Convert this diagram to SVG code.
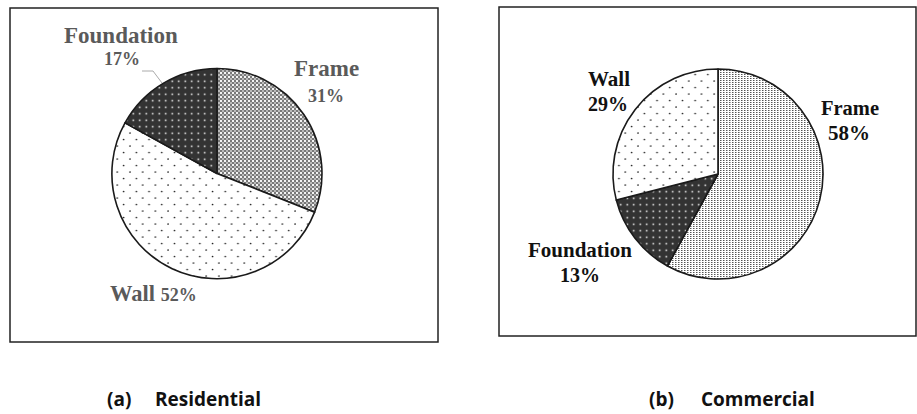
<svg xmlns="http://www.w3.org/2000/svg" width="917" height="414" viewBox="0 0 917 414">
<style>
.box{fill:#fff;stroke:#222;stroke-width:1.5}
.slice{stroke:#1a1a1a;stroke-width:1.6;stroke-linejoin:round}
.lblL{font-family:"Liberation Serif",serif;font-weight:bold;fill:#5a5a5a}
.lblR{font-family:"Liberation Serif",serif;font-weight:bold;fill:#111}
.cap{font-family:"Open Sans","Liberation Sans",sans-serif;font-weight:bold;font-size:19px;fill:#111}
</style>
<defs>
<pattern id="pFrameL" patternUnits="userSpaceOnUse" width="4" height="4">
<rect width="4" height="4" fill="#7a7a7a"/>
<rect x="0" y="0" width="2" height="2" fill="#f4f4f4"/>
<rect x="2" y="2" width="2" height="2" fill="#bbb"/>
</pattern>
<pattern id="pFrameR" patternUnits="userSpaceOnUse" width="3" height="2">
<rect width="3" height="2" fill="#fff"/>
<rect x="0" y="0" width="1.5" height="1" fill="#555"/>
</pattern>
<pattern id="pFound" patternUnits="userSpaceOnUse" width="6.5" height="6.5">
<rect width="6.5" height="6.5" fill="#333"/>
<rect x="2.5" y="2.5" width="1.5" height="1.5" fill="#fff"/>
</pattern>
<pattern id="pWall" patternUnits="userSpaceOnUse" width="12.7" height="13">
<rect width="12.7" height="13" fill="#fff"/>
<circle cx="3" cy="3" r="0.85" fill="#222"/>
<circle cx="9.35" cy="9.5" r="0.85" fill="#222"/>
</pattern>
</defs>

<g id="panel-a">
<rect class="box" x="10" y="8" width="428" height="334"/>
</g>
<g id="panel-b">
<rect class="box" x="499" y="7" width="417" height="329"/>
</g>

<g id="pie-a">
<g id="a-frame"><path class="slice" fill="url(#pFrameL)" d="M217,173.5 L217,68.5 A105,105 0 0 1 314.6,212.15 Z"/></g>
<g id="a-wall"><path class="slice" fill="url(#pWall)" d="M217,173.5 L314.6,212.15 A105,105 0 1 1 125,122.9 Z"/></g>
<g id="a-foundation"><path class="slice" fill="url(#pFound)" d="M217,173.5 L125,122.9 A105,105 0 0 1 217,68.5 Z"/></g>
</g>

<g id="pie-b">
<g id="b-frame"><path class="slice" fill="url(#pFrameR)" d="M718,174 L718,69 A105,105 0 1 1 667.4,266 Z"/></g>
<g id="b-foundation"><path class="slice" fill="url(#pFound)" d="M718,174 L667.4,266 A105,105 0 0 1 616.3,200.1 Z"/></g>
<g id="b-wall"><path class="slice" fill="url(#pWall)" d="M718,174 L616.3,200.1 A105,105 0 0 1 718,69 Z"/></g>
</g>

<g id="connectors">
<polyline points="142,71 153,71 162,83" fill="none" stroke="#aaa" stroke-width="1"/>
</g>

<g id="labels-a">
<text class="lblL" x="64" y="43" font-size="23">Foundation</text>
<text class="lblL" x="104" y="65" font-size="18">17%</text>
<text class="lblL" x="294" y="76" font-size="23">Frame</text>
<text class="lblL" x="308" y="102" font-size="18">31%</text>
<text class="lblL" x="110" y="301" font-size="22.5">Wall <tspan font-size="18">52%</tspan></text>
</g>

<g id="labels-b">
<text class="lblR" x="588" y="86" font-size="21">Wall</text>
<text class="lblR" x="588" y="111" font-size="20">29%</text>
<text class="lblR" x="821" y="115" font-size="20.5">Frame</text>
<text class="lblR" x="828" y="140" font-size="21">58%</text>
<text class="lblR" x="528" y="257" font-size="21">Foundation</text>
<text class="lblR" x="560" y="282" font-size="20">13%</text>
</g>

<g id="captions">
<text class="cap" x="107" y="406">(a)</text>
<text class="cap" x="155" y="406">Residential</text>
<text class="cap" x="649" y="406">(b)</text>
<text class="cap" x="701" y="406">Commercial</text>
</g>
</svg>
